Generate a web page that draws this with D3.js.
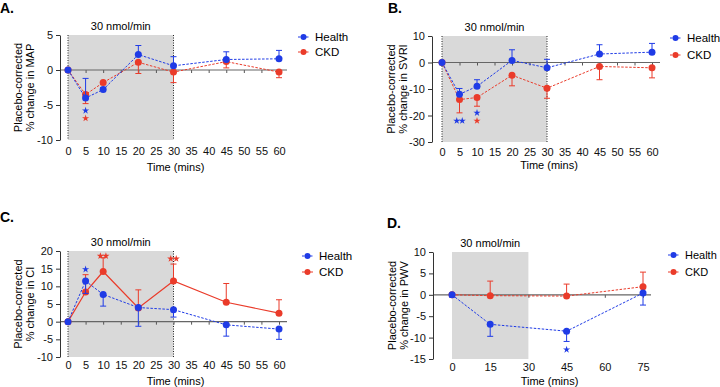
<!DOCTYPE html>
<html>
<head>
    <meta charset="utf-8">
    <script src="https://d3js.org/d3.v7.min.js"></script>
    <style>
        body { margin: 0; background: #fff; }
        text { font-family: "Liberation Sans", Arial, sans-serif; }
    </style>
</head>
<body>
    <svg id="chartArea" width="720" height="387"></svg>
    <script>
        // time points
        const timeABC = [0, 5, 10, 20, 30, 45, 60];
        const timeD = [0, 15, 45, 75];

        // A. MAP
        const mapHealth = [0, -4.0, -2.8, 2.2, 0.6, 1.5, 1.6];
        const mapHealthErr = [0, 2.8, 0.3, 1.3, 1.3, 1.1, 1.2];
        const mapCKD = [0, -3.5, -1.8, 1.1, -0.3, 1.2, -0.3];
        const mapCKDErr = [0, 1.3, 0.3, 1.6, 1.5, 0.9, 0.8];

        // B. SVRI
        const svriHealth = [0, -12, -9, 0.8, -2, 3.2, 3.9];
        const svriHealthErr = [0, 2.2, 2.5, 4.0, 3.2, 3.5, 3.3];
        const svriCKD = [0, -14, -13.2, -4.8, -9.7, -1.5, -2];
        const svriCKDErr = [0, 5, 3.3, 4, 3.8, 5, 3.8];

        // C. CI
        const ciHealth = [0, 11.5, 7.7, 4, 3.4, -0.9, -2.1];
        const ciHealthErr = [0, 3.5, 3.3, 5.3, 2.1, 3.2, 2.9];
        const ciCKD = [0, 8.4, 14.2, 3.9, 11.5, 5.5, 2.4];
        const ciCKDErr = [0, 4.9, 3.9, 5.1, 4.8, 5.3, 3.8];

        // D. PWV
        const pwvHealth = [0, -6.9, -8.5, 0.4];
        const pwvHealthErr = [0.5, 2.8, 2.4, 2.8];
        const pwvCKD = [0, -0.2, -0.3, 1.9];
        const pwvCKDErr = [0, 3.4, 2.8, 3.4];

        // significance marks
        const starsA = [{ t: 5, v: -5.8, n: 1, s: "health" }, { t: 5, v: -6.9, n: 1, s: "ckd" }];
        const starsB = [{ t: 5, v: -22, n: 2, s: "health" }, { t: 10, v: -19, n: 1, s: "health" }, { t: 10, v: -22, n: 1, s: "ckd" }];
        const starsC = [{ t: 5, v: 14.8, n: 1, s: "health" }, { t: 10, v: 18.6, n: 2, s: "ckd" }, { t: 30, v: 17.8, n: 2, s: "ckd" }];
        const starsD = [{ t: 45, v: -12.8, n: 1, s: "health" }];

        const blue = "#1f3be6";
        const red = "#ea3b2a";
        const svg = d3.select("#chartArea");

        const panels = [
            {
                letter: "A.", lx: 0, ly: 13, measure: "MAP", time: timeABC,
                xDom: [0, 60], xRange: [68, 279], yDom: [-10, 5], yRange: [140, 35],
                xTicks: d3.range(0, 61, 5), yTicks: [-10, -5, 0, 5], axisX: 60, dotted: true,
                health: mapHealth, healthErr: mapHealthErr, healthDir: 1,
                ckd: mapCKD, ckdErr: mapCKDErr, ckdDir: -1, ckdSolid: false,
                stars: starsA, legX: 298, legY: [37, 52], labX: 18, tickOff: 4, timeY: 171, legFont: 11.5
            },
            {
                letter: "B.", lx: 388, ly: 13, measure: "SVRI", time: timeABC,
                xDom: [0, 60], xRange: [442, 652], yDom: [-30, 10], yRange: [142, 36],
                xTicks: d3.range(0, 61, 5), yTicks: [-30, -20, -10, 0, 10], axisX: 432, dotted: true,
                health: svriHealth, healthErr: svriHealthErr, healthDir: 1,
                ckd: svriCKD, ckdErr: svriCKDErr, ckdDir: -1, ckdSolid: false,
                stars: starsB, legX: 670, legY: [38, 55], labX: 391, tickOff: 3, timeY: 169, legFont: 11.5
            },
            {
                letter: "C.", lx: 0, ly: 222, measure: "CI", time: timeABC,
                xDom: [0, 60], xRange: [68, 279], yDom: [-10, 20], yRange: [357, 251],
                xTicks: d3.range(0, 61, 5), yTicks: d3.range(-10, 21, 5), axisX: 60, dotted: true,
                health: ciHealth, healthErr: ciHealthErr, healthDir: -1,
                ckd: ciCKD, ckdErr: ciCKDErr, ckdDir: 1, ckdSolid: true,
                stars: starsC, legX: 302, legY: [256, 272], labX: 18, tickOff: 1, timeY: 385, legFont: 11.5
            },
            {
                letter: "D.", lx: 387, ly: 228, measure: "PWV", time: timeD,
                xDom: [0, 75], xRange: [452, 643], yDom: [-15, 10], yRange: [359, 252],
                xTicks: d3.range(0, 76, 15), yTicks: d3.range(-15, 11, 5), axisX: 433, dotted: false,
                health: pwvHealth, healthErr: pwvHealthErr, healthDir: -1,
                ckd: pwvCKD, ckdErr: pwvCKDErr, ckdDir: 1, ckdSolid: false,
                stars: starsD, legX: 668, legY: [255, 272], labX: 392, tickOff: 1, timeY: 385, legFont: 11
            }
        ];

        panels.forEach(p => {
            const x = d3.scaleLinear().domain(p.xDom).range(p.xRange);
            const y = d3.scaleLinear().domain(p.yDom).range(p.yRange);
            const g = svg.append("g");

            // shaded infusion period
            g.append("rect")
                .attr("x", x(0)).attr("y", y(p.yDom[1]))
                .attr("width", x(30) - x(0)).attr("height", y(p.yDom[0]) - y(p.yDom[1]))
                .attr("fill", "#d9d9d9");

            if (p.dotted) {
                [0, 30].forEach(t => {
                    g.append("line")
                        .attr("x1", x(t)).attr("x2", x(t))
                        .attr("y1", y(p.yDom[1])).attr("y2", y(p.yDom[0]))
                        .attr("stroke", "#222").attr("stroke-width", 1)
                        .attr("stroke-dasharray", "1,1.5");
                });
            }

            g.append("text")
                .attr("x", (x(0) + x(30)) / 2).attr("y", y(p.yDom[1]) - 5)
                .attr("text-anchor", "middle").attr("font-size", 11)
                .text("30 nmol/min");

            // zero line with ticks
            const zeroAxis = g.append("g")
                .attr("transform", `translate(0,${y(0)})`)
                .call(d3.axisBottom(x).tickValues(p.xTicks).tickSize(3).tickFormat(""));
            zeroAxis.select(".domain").remove();
            zeroAxis.selectAll(".tick line").attr("stroke", "#555");
            g.append("line")
                .attr("x1", p.axisX).attr("x2", p.xRange[1] + 8)
                .attr("y1", y(0)).attr("y2", y(0))
                .attr("stroke", "#666").attr("stroke-width", 1.2);

            // bottom tick labels (no axis line)
            const bottom = g.append("g")
                .attr("transform", `translate(0,${y(p.yDom[0]) + p.tickOff})`)
                .call(d3.axisBottom(x).tickValues(p.xTicks).tickSize(0).tickFormat(d => String(d)));
            bottom.select(".domain").remove();
            bottom.selectAll("text").attr("font-size", 11).attr("fill", "#111")
                .attr("font-family", "Liberation Sans, Arial, sans-serif");

            // y axis
            const left = g.append("g")
                .attr("transform", `translate(${p.axisX},0)`)
                .call(d3.axisLeft(y).tickValues(p.yTicks).tickSize(4).tickSizeOuter(0)
                    .tickFormat(d => String(d)));
            left.select(".domain").attr("stroke", "#333");
            left.selectAll(".tick line").attr("stroke", "#333");
            left.selectAll("text").attr("font-size", 11).attr("fill", "#111")
                .attr("font-family", "Liberation Sans, Arial, sans-serif");

            // axis titles
            g.append("text")
                .attr("x", (p.xRange[0] + p.xRange[1]) / 2 + 2).attr("y", p.timeY)
                .attr("text-anchor", "middle").attr("font-size", 11)
                .text("Time (mins)");
            const cy = (p.yRange[0] + p.yRange[1]) / 2;
            ["Placebo-corrected", `% change in ${p.measure}`].forEach((t, i) => {
                g.append("text")
                    .attr("transform", `translate(${p.labX + i * 12 + 4},${cy}) rotate(-90)`)
                    .attr("text-anchor", "middle").attr("font-size", 11)
                    .text(t);
            });

            g.append("text")
                .attr("x", p.lx).attr("y", p.ly)
                .attr("font-size", 14).attr("font-weight", "bold")
                .text(p.letter);

            const series = [
                { key: "ckd", vals: p.ckd, err: p.ckdErr, dir: p.ckdDir, color: red, solid: p.ckdSolid },
                { key: "health", vals: p.health, err: p.healthErr, dir: p.healthDir, color: blue, solid: false }
            ];

            series.forEach(s => {
                const pts = p.time.map((t, i) => ({ t: t, v: s.vals[i], e: s.err[i] }));
                // error bars
                const eb = g.append("g").attr("stroke", s.color).attr("stroke-width", 1);
                pts.filter(d => d.e > 0).forEach(d => {
                    const y2 = y(d.v + s.dir * d.e);
                    eb.append("line").attr("x1", x(d.t)).attr("x2", x(d.t))
                        .attr("y1", y(d.v)).attr("y2", y2);
                    eb.append("line").attr("x1", x(d.t) - 3).attr("x2", x(d.t) + 3)
                        .attr("y1", y2).attr("y2", y2);
                });
                g.append("path").datum(pts)
                    .attr("fill", "none").attr("stroke", s.color)
                    .attr("stroke-width", s.solid ? 1.2 : 1)
                    .attr("stroke-dasharray", s.solid ? null : "2.5,1.5")
                    .attr("d", d3.line().x(d => x(d.t)).y(d => y(d.v)));
                g.selectAll(null).data(pts).join("circle")
                    .attr("cx", d => x(d.t)).attr("cy", d => y(d.v))
                    .attr("r", 3.5).attr("fill", s.color);
            });

            // stars
            const star = d3.symbol().type(d3.symbolStar).size(16);
            p.stars.forEach(st => {
                for (let k = 0; k < st.n; k++) {
                    const dx = (k - (st.n - 1) / 2) * 5.5;
                    g.append("path").attr("d", star)
                        .attr("transform", `translate(${x(st.t) + dx},${y(st.v)})`)
                        .attr("fill", st.s === "health" ? blue : red);
                }
            });

            // legend
            [["Health", blue, false], ["CKD", red, p.ckdSolid]].forEach((l, i) => {
                const ly = p.legY[i];
                g.append("line").attr("x1", p.legX).attr("x2", p.legX + 11)
                    .attr("y1", ly).attr("y2", ly)
                    .attr("stroke", l[1]).attr("stroke-dasharray", l[2] ? null : "2.5,1.5");
                g.append("circle").attr("cx", p.legX + 5.5).attr("cy", ly).attr("r", 3).attr("fill", l[1]);
                g.append("text").attr("x", p.legX + 17).attr("y", ly + 4)
                    .attr("font-size", p.legFont).text(l[0]);
            });
        });
    </script>
</body>
</html>
